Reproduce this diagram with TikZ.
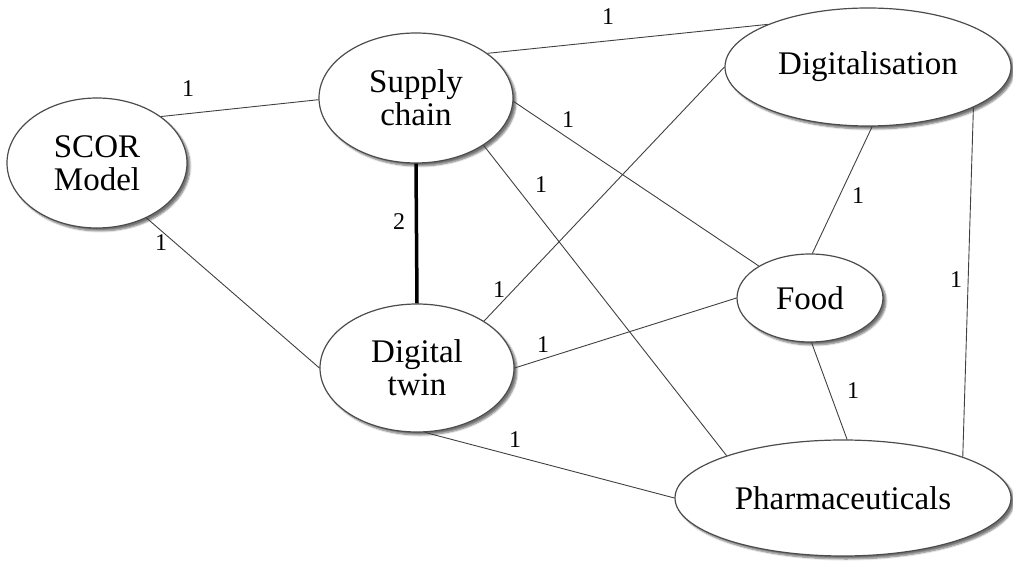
\documentclass[tikz,border=0pt]{standalone}
\usepackage{fontspec}
\setmainfont{Liberation Serif}
\usetikzlibrary{shapes.geometric,shadows.blur}

\begin{document}
\begin{tikzpicture}[x=1pt, y=-1pt,
	topic/.style={shape=ellipse, draw=black!70, line width=1.2pt, fill=white,
		inner sep=0pt, align=center, font=\fontsize{33}{33}\selectfont,
		blur shadow={shadow xshift=3pt, shadow yshift=-3pt, shadow blur steps=6, shadow opacity=55}},
	link/.style={draw=black!75, line width=0.9pt},
	weight/.style={font=\fontsize{24}{24}\selectfont, inner sep=0pt}]

	\useasboundingbox (0,0) rectangle (1013,561);

	\node[topic, minimum width=180pt, minimum height=130pt] (scor)   at (97, 163)  {SCOR\\Model};
	\node[topic, minimum width=194pt, minimum height=130pt] (supply) at (416, 98)  {Supply\\chain};
	\node[topic, minimum width=194pt, minimum height=128pt] (twin)   at (417, 368) {Digital\\twin};
	\node[topic, minimum width=286pt, minimum height=118pt] (digit)  at (868, 67)  {Digitalisation};
	\node[topic, minimum width=146pt, minimum height=88pt]  (food)   at (810, 298) {Food};
	\node[topic, minimum width=336pt, minimum height=116pt] (pharma) at (843, 498) {Pharmaceuticals};

	\path[link] (scor.36) edge (supply.181);
	\path[link] (scor.-48) edge (twin.180);
	\path[draw=black, line width=3.5pt] (supply.270) edge (twin.90);
	\path[link] (supply.32) edge (digit.157);
	\path[link] (supply.-2) edge (food.148);
	\path[link] (supply.-35) edge (pharma.160);
	\path[link] (twin.35) edge (digit.180);
	\path[link] (twin.0) edge (food.180);
	\path[link] (twin.-83) edge (pharma.180);
	\path[link] (digit.-86) edge (food.87);
	\path[link] (digit.-21) edge (pharma.19);
	\path[link] (food.-88) edge (pharma.86);

	% weights
	\node[weight] (w1)  at (188, 89)  {1};
	\node[weight] (w2)  at (161, 243) {1};
	\node[weight] (w3)  at (399, 222) {2};
	\node[weight] (w4)  at (608, 17)  {1};
	\node[weight] (w5)  at (568, 120) {1};
	\node[weight] (w6)  at (541, 185) {1};
	\node[weight] (w7)  at (499, 290) {1};
	\node[weight] (w8)  at (543, 345) {1};
	\node[weight] (w9)  at (515, 440) {1};
	\node[weight] (w10) at (858, 196) {1};
	\node[weight] (w11) at (956, 280) {1};
	\node[weight] (w12) at (853, 391) {1};

\end{tikzpicture}
\end{document}
